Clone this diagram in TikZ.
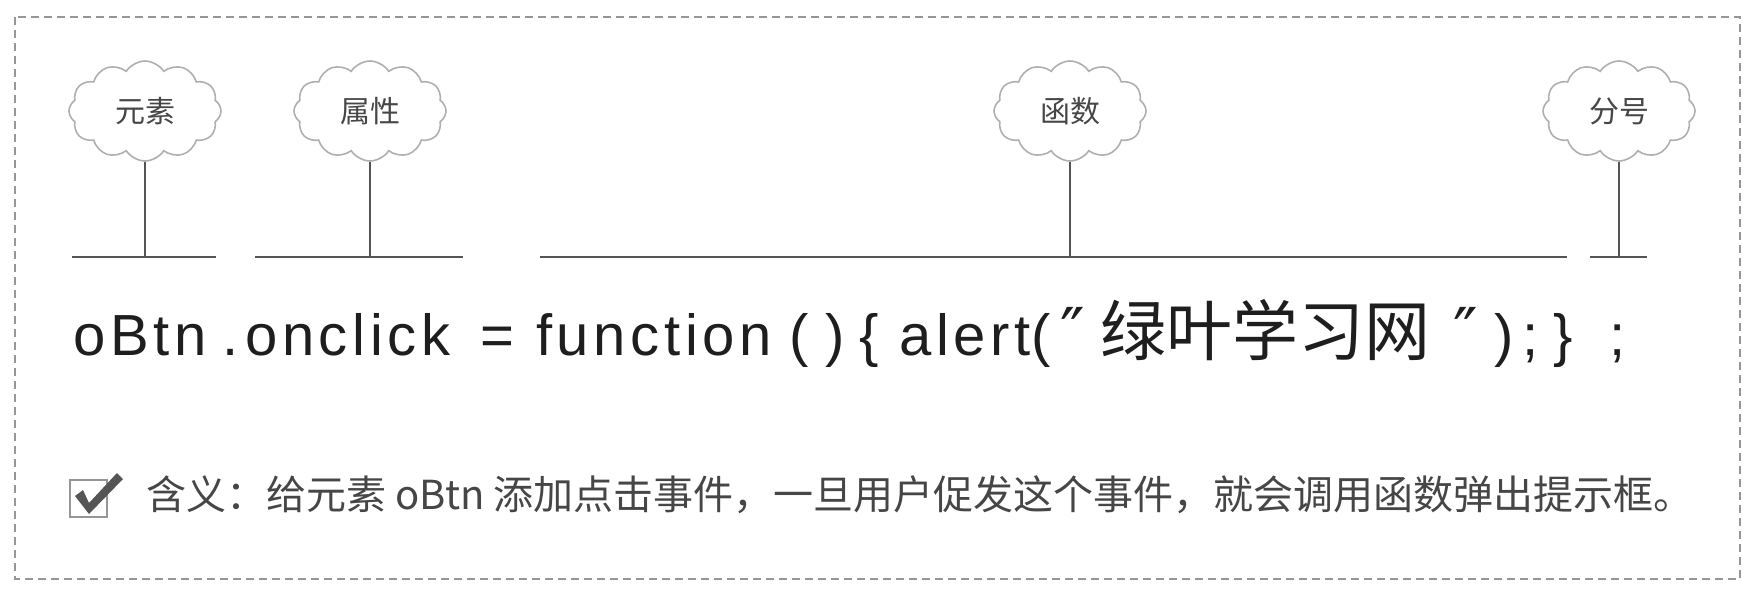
\documentclass[tikz,border=0pt]{standalone}
\usepackage{fontspec}
\setmainfont{Liberation Sans}
\newfontfamily\cjk{Noto Sans CJK SC}
\newfontfamily\djv{DejaVu Sans}
\newfontfamily\codefont[LetterSpace=8]{Liberation Sans}
\usetikzlibrary{shapes.symbols}
\definecolor{bordergray}{RGB}{150,150,150}
\definecolor{linegray}{RGB}{85,85,85}
\definecolor{cloudgray}{RGB}{175,175,175}
\definecolor{codecol}{RGB}{30,30,30}
\definecolor{txtgray}{RGB}{70,70,70}
\tikzset{
  bubble/.style={cloud, cloud puffs=12, cloud puff arc=115, draw=cloudgray, line width=1.6pt,
    minimum width=152pt, minimum height=100pt, inner sep=0pt,
    font=\cjk\fontsize{30}{32}\selectfont, text=txtgray},
  stem/.style={draw=linegray, line width=2pt},
  bar/.style={draw=linegray, line width=2.4pt},
  codetok/.style={anchor=base west, inner sep=0pt, text=codecol,
    font=\codefont\fontsize{58}{60}\selectfont},
  quotetok/.style={anchor=base west, inner sep=0pt, text=codecol,
    font=\djv\fontsize{66}{70}\selectfont},
  cjktok/.style={anchor=base west, inner sep=0pt, text=codecol,
    font=\cjk\fontsize{66}{70}\selectfont},
  note/.style={anchor=base west, inner sep=0pt, text=txtgray,
    font=\cjk\fontsize{40}{44}\selectfont},
}
\begin{document}
\begin{tikzpicture}[x=1pt,y=-1pt]
\useasboundingbox (0,0) rectangle (1755,594);
% dashed frame
\draw[bordergray, line width=1.6pt, dash pattern=on 8pt off 5pt] (15,17) rectangle (1740,579);

% clouds
\node[bubble] (c1) at (145,111) {元素};
\node[bubble] (c2) at (370,111) {属性};
\node[bubble] (c3) at (1070,111) {函数};
\node[bubble] (c4) at (1619,111) {分号};

% bars
\coordinate (a1) at (72,257);   \coordinate (b1) at (216,257);
\coordinate (a2) at (255,257);  \coordinate (b2) at (463,257);
\coordinate (a3) at (540,257);  \coordinate (b3) at (1567,257);
\coordinate (a4) at (1590,257); \coordinate (b4) at (1647,257);
\draw[bar] (a1) -- (b1);
\draw[bar] (a2) -- (b2);
\draw[bar] (a3) -- (b3);
\draw[bar] (a4) -- (b4);

% stems
\coordinate (s1) at (145,257);
\coordinate (s2) at (370,257);
\coordinate (s3) at (1070,257);
\coordinate (s4) at (1619,257);
\draw[stem] (c1.south) -- (s1);
\draw[stem] (c2.south) -- (s2);
\draw[stem] (c3.south) -- (s3);
\draw[stem] (c4.south) -- (s4);

% code line
\node[codetok] (t1) at (73,355) {oBtn};
\node[codetok] (t2) at (222,355) {.};
\node[codetok] (t3) at (245,355) {onclick};
\node[codetok] (t4) at (480,355) {=};
\node[codetok] (t5) at (536,355) {function};
\node[codetok] (t6) at (789,355) {(};
\node[codetok] (t7) at (825,355) {)};
\node[codetok] (t8) at (859,355) {\{};
\node[codetok] (t9) at (899,355) {alert};
\node[codetok] (t10) at (1031,355) {(};
\node[quotetok] (t11) at (1060,355) {″};
\node[cjktok] (t12) at (1100,355) {绿叶学习网};
\node[quotetok] (t13) at (1453,355) {″};
\node[codetok] (t14) at (1494,355) {)};
\node[codetok] (t15) at (1522,355) {;};
\node[codetok] (t16) at (1553,355) {\}};
\node[codetok] (t17) at (1609,355) {;};

% note line
\draw[bordergray, line width=1.4pt] (70,480) rectangle (107,517);
\fill[linegray] (75,496) -- (83,490) -- (89,503) -- (117,473) -- (123,479) -- (89,514) -- cycle;
\node[note] (n1) at (146,509) {含义：给元素 oBtn 添加点击事件，一旦用户促发这个事件，就会调用函数弹出提示框。};
\end{tikzpicture}
\end{document}
